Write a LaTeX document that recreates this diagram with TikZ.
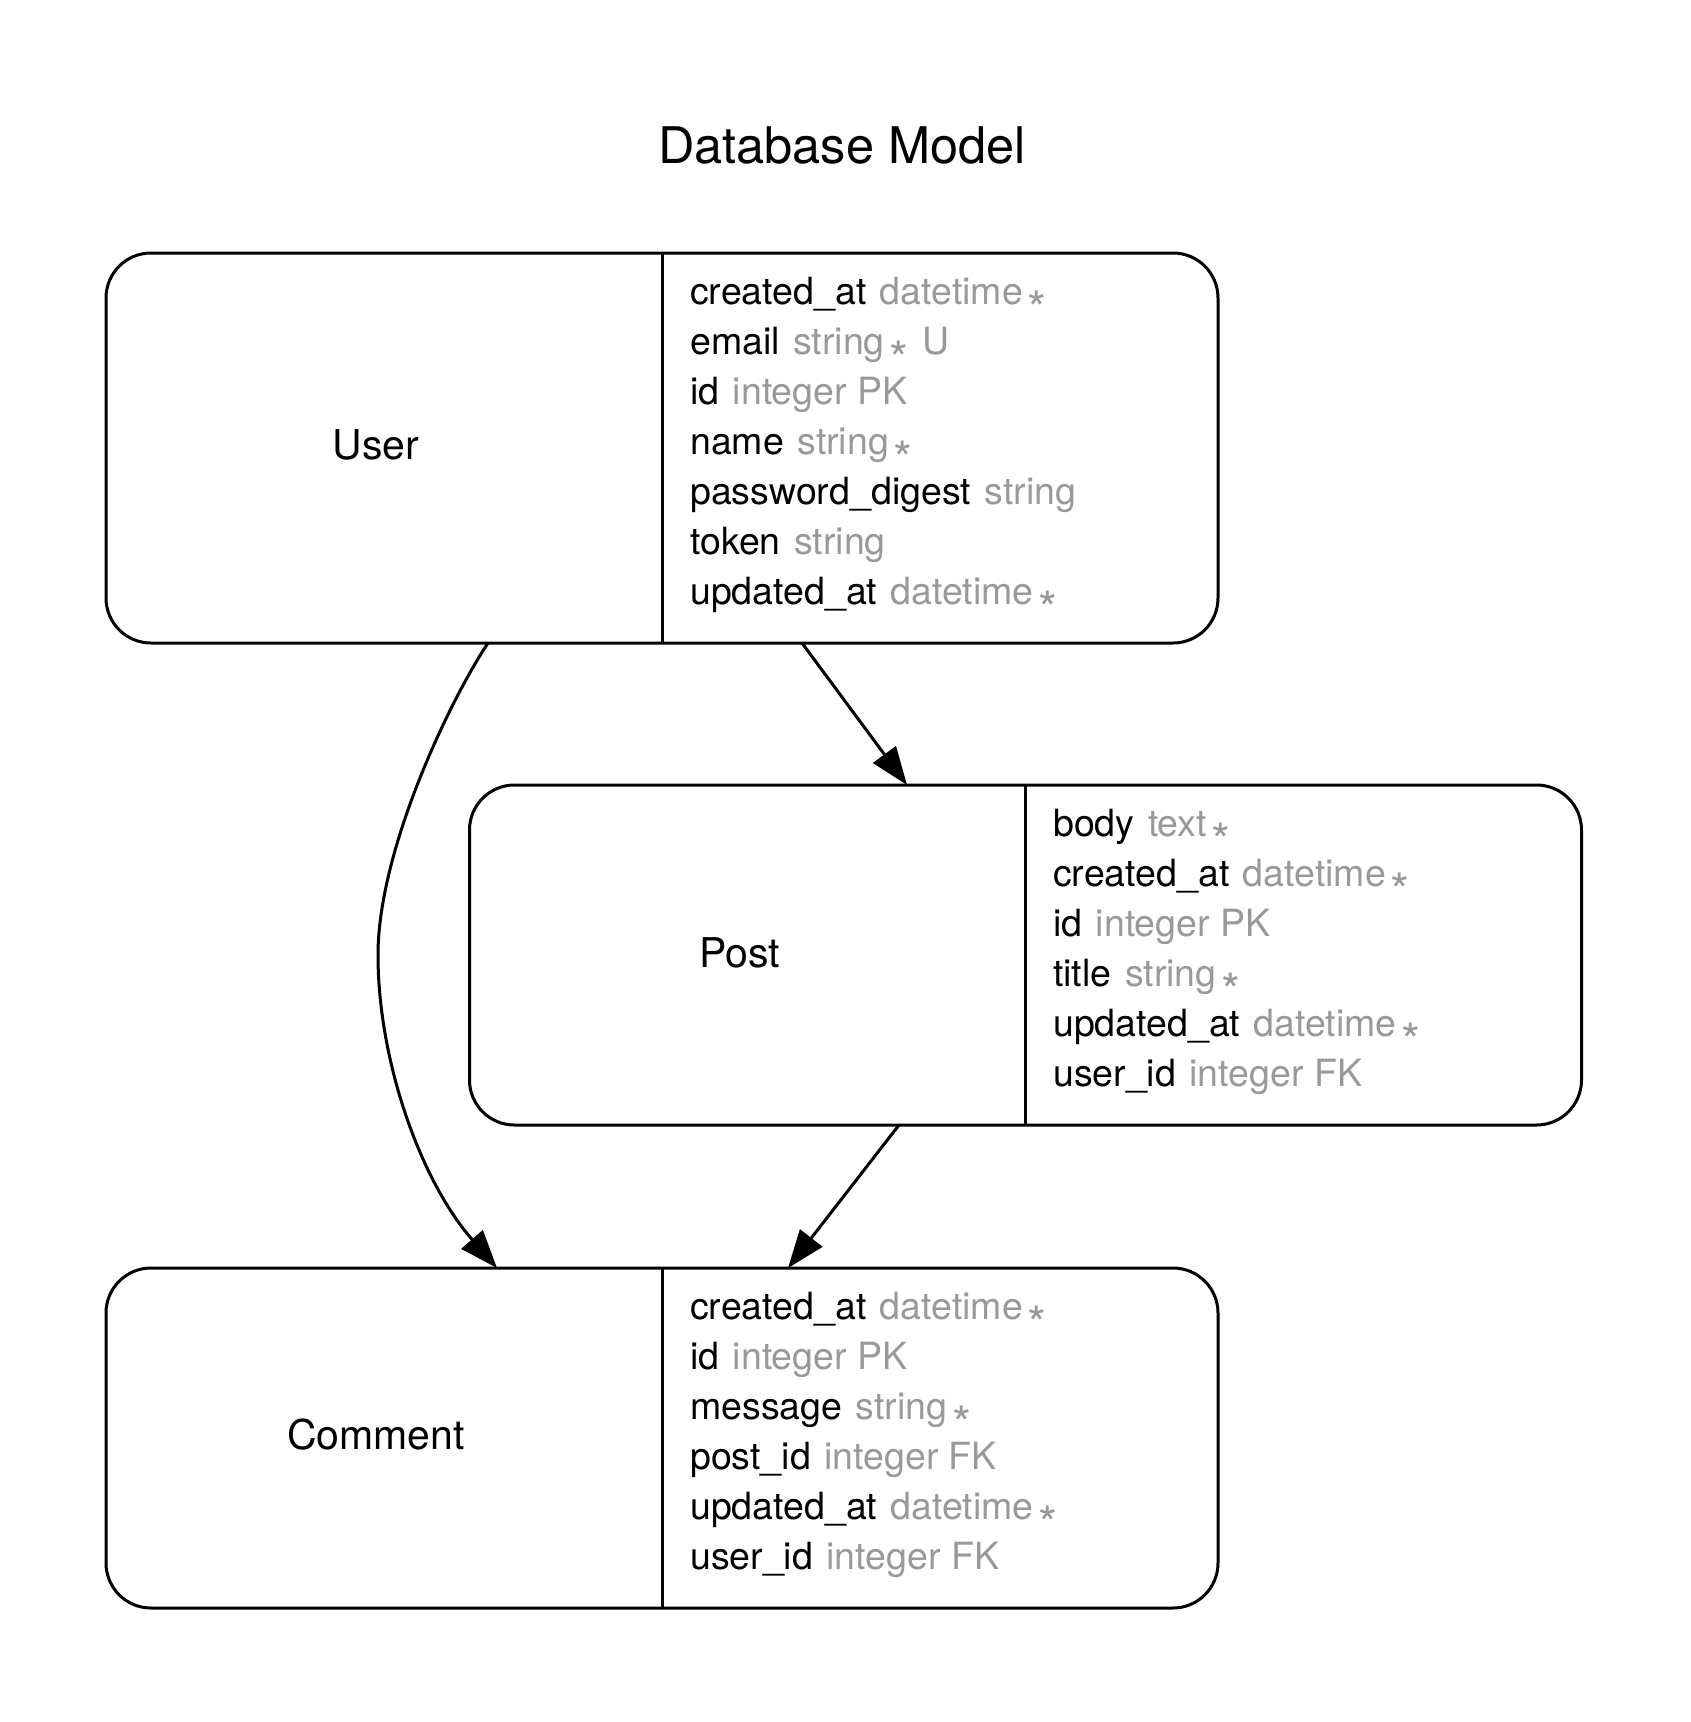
\documentclass[tikz,border=0pt]{standalone}
\usepackage{fontspec}
\usepackage{graphicx}
\setmainfont{TeX Gyre Heros}
\usetikzlibrary{arrows.meta}
\definecolor{fieldgray}{RGB}{153,153,153}
\newcommand\gsep{\hspace{13.5pt}}
\newcommand\fstar{\hspace{5pt}\raisebox{-22pt}[0pt][0pt]{\scalebox{1.3}{*}}}
\newcommand\gt[1]{\textcolor{fieldgray}{#1}}
\begin{document}
\begin{tikzpicture}[x=1pt,y=-1pt,
  box/.style={draw, line width=3pt, rounded corners=45pt, minimum width=1112pt, inner sep=0pt, outer sep=0pt},
  field/.style={anchor=base west, inner sep=0pt, font=\fontsize{37.5}{45}\selectfont},
  label/.style={anchor=base, inner sep=0pt, font=\fontsize{41}{49}\selectfont},
  titlestyle/.style={anchor=base, inner sep=0pt, font=\fontsize{50.5}{60}\selectfont},
  divider/.style={line width=3pt},
  rel/.style={line width=3pt, -{Triangle[length=38pt,width=28pt]}}]
\useasboundingbox (0,0) rectangle (1690,1722);

\node[titlestyle] (title) at (842,163) {Database Model};

% boxes
\node[box, minimum height=390pt] (user) at (662,448) {};
\node[box, minimum height=340pt] (post) at (1025.5,955) {};
\node[box, minimum height=340pt] (comment) at (662,1438) {};

\draw[divider] ([xshift=556pt]user.north west) -- ([xshift=556pt]user.south west);
\draw[divider] ([xshift=556pt]post.north west) -- ([xshift=556pt]post.south west);
\draw[divider] ([xshift=556pt]comment.north west) -- ([xshift=556pt]comment.south west);

% labels
\node[label] (ulabel) at (376,459) {User};
\node[label] (plabel) at (739.5,967) {Post};
\node[label] (clabel) at (376,1449) {Comment};

% User fields
\node[field] (u1) at (690,304) {created\_at\gsep\gt{datetime\fstar}};
\node[field] (u2) at (690,354) {email\gsep\gt{string\fstar\gsep U}};
\node[field] (u3) at (690,404) {id\gsep\gt{integer PK}};
\node[field] (u4) at (690,454) {name\gsep\gt{string\fstar}};
\node[field] (u5) at (690,504) {password\_digest\gsep\gt{string}};
\node[field] (u6) at (690,554) {token\gsep\gt{string}};
\node[field] (u7) at (690,604) {updated\_at\gsep\gt{datetime\fstar}};

% Post fields
\node[field] (p1) at (1053,836) {body\gsep\gt{text\fstar}};
\node[field] (p2) at (1053,886) {created\_at\gsep\gt{datetime\fstar}};
\node[field] (p3) at (1053,936) {id\gsep\gt{integer PK}};
\node[field] (p4) at (1053,986) {title\gsep\gt{string\fstar}};
\node[field] (p5) at (1053,1036) {updated\_at\gsep\gt{datetime\fstar}};
\node[field] (p6) at (1053,1086) {user\_id\gsep\gt{integer FK}};

% Comment fields
\node[field] (c1) at (690,1319) {created\_at\gsep\gt{datetime\fstar}};
\node[field] (c2) at (690,1369) {id\gsep\gt{integer PK}};
\node[field] (c3) at (690,1419) {message\gsep\gt{string\fstar}};
\node[field] (c4) at (690,1469) {post\_id\gsep\gt{integer FK}};
\node[field] (c5) at (690,1519) {updated\_at\gsep\gt{datetime\fstar}};
\node[field] (c6) at (690,1569) {user\_id\gsep\gt{integer FK}};

% relations
\draw[rel] ([xshift=696pt]user.south west) -- ([xshift=437.5pt]post.north west);
\draw[rel] ([xshift=382pt]user.south west) .. controls (450,700) and (378,850) .. (378,955)
  .. controls (378,1060) and (420,1180) .. ([xshift=391pt]comment.north west);
\draw[rel] ([xshift=429.5pt]post.south west) -- ([xshift=682pt]comment.north west);
\end{tikzpicture}
\end{document}
